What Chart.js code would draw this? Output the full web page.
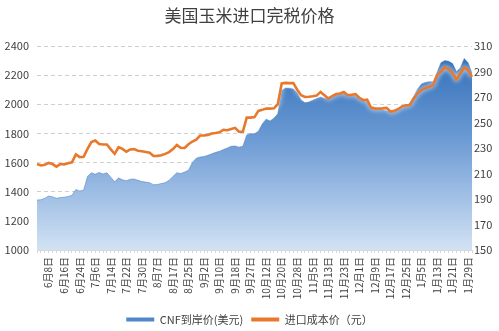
<!DOCTYPE html>
<html><head><meta charset="utf-8">
<script src="https://cdn.jsdelivr.net/npm/chart.js@4.4.1/dist/chart.umd.min.js"></script>
<style>html,body{margin:0;padding:0;background:#fff}#w{width:499px;height:331px}</style>
</head><body><div id="w"><canvas id="c"></canvas></div>
<script>
const tickDates = ['6月8日','6月16日','6月24日','7月6日','7月14日','7月22日','7月30日','8月7日','8月17日','8月25日','9月2日','9月10日','9月18日','9月27日','10月12日','10月20日','10月28日','11月5日','11月13日','11月23日','12月1日','12月9日','12月17日','12月25日','1月5日','1月13日','1月21日','1月29日'];
const cnfPrice = [1343,1345,1355,1370,1365,1355,1360,1362,1368,1375,1415,1405,1410,1505,1530,1520,1532,1522,1530,1500,1468,1495,1482,1476,1485,1488,1478,1470,1466,1462,1448,1450,1456,1462,1478,1505,1530,1525,1535,1548,1600,1630,1638,1642,1650,1660,1670,1678,1690,1700,1712,1714,1706,1712,1790,1798,1798,1815,1865,1898,1885,1905,1935,2095,2112,2110,2105,2080,2030,2010,2015,2028,2040,2050,2042,2040,2048,2065,2074,2078,2070,2062,2055,2040,2028,2016,1975,1968,1965,1962,1955,1950,1948,1965,1975,1986,2010,2055,2105,2140,2150,2155,2155,2220,2285,2300,2295,2280,2225,2250,2315,2285,2215];
const importCost = [217.4,216.3,216.9,218.3,217.4,215.4,217.4,217.2,218,218.8,224.9,222.8,223.1,229.3,234.6,235.9,233.2,232.7,232.7,228.9,225.4,230.6,229.3,227.1,228.9,229.1,227.9,227.5,226.8,226.3,223.7,223.8,224.3,225.4,226.8,229.1,232.3,230.2,230,232.9,235.1,236.6,239.8,239.8,240.3,241.4,241.7,242.3,244.3,243.9,244.9,245.8,242.8,242.8,253.8,253.8,254.2,259.1,259.9,260.9,260.9,261.1,264.3,280.6,281.1,280.9,280.9,275.7,271.4,270,270.2,270.6,271.1,274,271.4,268.9,270.6,272.3,272.7,274,271.4,271.8,272.2,269.4,267.5,267.9,261.7,261.1,260.9,261.1,261.5,258.6,259.1,260.6,262.6,263.5,263.7,268.9,272.9,275.4,276.9,278,279.3,287.1,290,293.2,291.7,288.9,283.7,288.5,293.2,291.1,285.8];
const leftTicks = [1000,1200,1400,1600,1800,2000,2200,2400];
const rightTicks = [150,170,190,210,230,250,270,290,310];
const firstTickIndex = 3, tickEvery = 4;

const labels = cnfPrice.map((_, i) => {
  const k = (i - firstTickIndex) / tickEvery;
  return (Number.isInteger(k) && k >= 0 && k < tickDates.length) ? tickDates[k] : '';
});

const FONT = '"Noto Sans CJK SC","Noto Sans",sans-serif';
function areaGrad(ctx) {
  const ca = ctx.chart.chartArea;
  if (!ca) return '#7aa7d9';
  const g = ctx.chart.ctx.createLinearGradient(0, ca.top, 0, ca.bottom);
  g.addColorStop(0, '#2c6bb5');
  g.addColorStop(0.45, '#6b9ad4');
  g.addColorStop(1, '#d2e2f4');
  return g;
}
const glow = {
  id: 'glow',
  beforeDatasetDraw(chart, args) {
    if (args.index === 1) { const c = chart.ctx; c.save(); c.shadowColor = 'rgba(255,255,255,0.95)'; c.shadowBlur = 5; }
  },
  afterDatasetDraw(chart, args) { if (args.index === 1) chart.ctx.restore(); }
};

new Chart(document.getElementById('c'), {
  type: 'line',
  data: {
    labels: labels,
    datasets: [
      { label: 'CNF到岸价(美元)', data: cnfPrice, yAxisID: 'y', fill: 'start',
        backgroundColor: areaGrad, borderColor: 'rgba(60,120,190,0.6)', borderWidth: 0.8,
        pointRadius: 0, tension: 0, order: 2 },
      { label: '进口成本价（元）', data: importCost, yAxisID: 'y1', fill: false,
        borderColor: '#e8792c', borderWidth: 2.6, pointRadius: 0, tension: 0, order: 1 }
    ]
  },
  options: {
    responsive: true, maintainAspectRatio: false, animation: false,
    layout: { padding: { left: 0, right: 0, top: 0, bottom: -4 } },
    plugins: {
      tooltip: { enabled: false },
      title: { display: true, text: '美国玉米进口完税价格', color: '#404040',
        font: { family: FONT, size: 17, weight: 'normal', lineHeight: 1.2 },
        padding: { top: 5, bottom: 20.6 } },
      legend: { position: 'bottom', align: 'center',
        labels: { color: '#404040', font: { family: FONT, size: 11 }, boxWidth: 28, boxHeight: 4, padding: 8,
          sort: (a, b) => a.datasetIndex - b.datasetIndex,
          generateLabels: (chart) => chart.data.datasets.map((d, i) => ({
            text: d.label, datasetIndex: i, fillStyle: i === 0 ? '#4f88c9' : '#e8792c',
            strokeStyle: i === 0 ? '#4f88c9' : '#e8792c', lineWidth: 0, hidden: false, fontColor: '#404040'
          })) } }
    },
    scales: {
      x: {
        grid: { display: true, drawOnChartArea: false, drawTicks: true, tickLength: 3, color: '#d9d9d9' },
        border: { display: true, color: '#d9d9d9' },
        ticks: { autoSkip: false, minRotation: 90, maxRotation: 90, color: '#404040', padding: 4,
          font: { family: FONT, size: 10 } },
        afterFit: (s) => { s.height = 56; }
      },
      y: {
        position: 'left', min: 1000, max: 2400,
        afterBuildTicks: (s) => { s.ticks = leftTicks.map(v => ({ value: v })); },
        grid: { color: '#cfcfcf', drawTicks: false, lineWidth: 1 },
        border: { display: false, dash: [4, 3] },
        ticks: { color: '#404040', padding: 8, font: { family: FONT, size: 11 }, callback: (v) => String(v) },
        afterFit: (s) => { s.width = 37; }
      },
      y1: {
        position: 'right', min: 150, max: 310,
        afterBuildTicks: (s) => { s.ticks = rightTicks.map(v => ({ value: v })); },
        grid: { drawOnChartArea: false, drawTicks: false },
        border: { display: false },
        ticks: { color: '#404040', padding: 2, font: { family: FONT, size: 11 }, callback: (v) => String(v) },
        afterFit: (s) => { s.width = 27; }
      }
    }
  },
  plugins: [glow]
});
</script>
</body></html>
